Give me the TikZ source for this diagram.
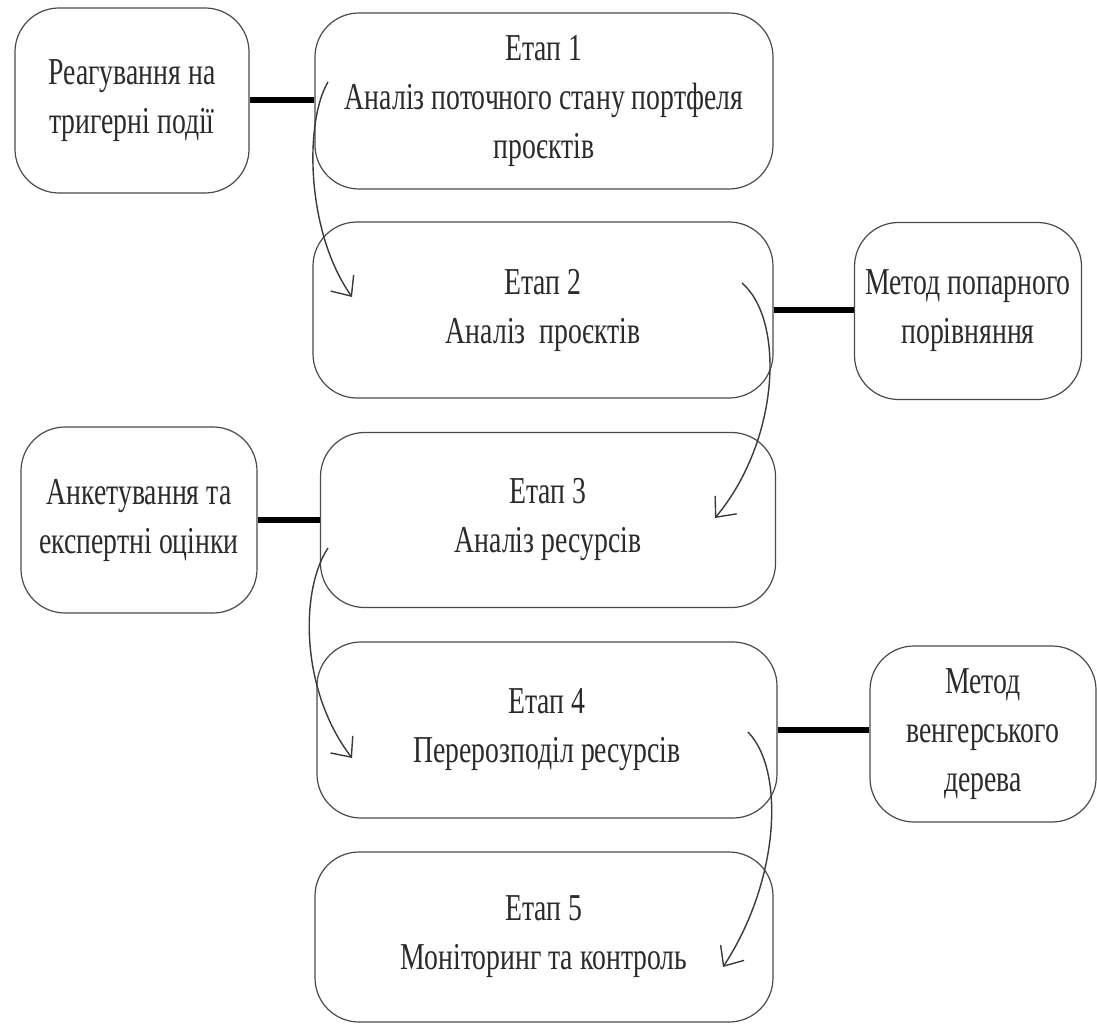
\documentclass[tikz,border=0pt]{standalone}
\usepackage{fontspec}
\setmainfont{Liberation Serif}[FakeStretch=0.73]
\usetikzlibrary{arrows.meta}
\definecolor{boxgray}{HTML}{4A4A4A}
\definecolor{txtgray}{HTML}{2A2A2A}
\definecolor{arrgray}{HTML}{3A3A3A}
\begin{document}
\begin{tikzpicture}[x=1pt,y=-1pt,
  box/.style={draw=boxgray, line width=1.2pt, rounded corners=44pt, inner sep=0pt,
    align=center, text=txtgray, font=\fontsize{38}{49}\selectfont},
  stagebox/.style={box, minimum width=458pt, minimum height=176pt},
  sidebox/.style={box, minimum width=230pt, minimum height=182pt},
  link/.style={line width=6pt, draw=black},
  flow/.style={draw=arrgray, line width=1.4pt, -{Straight Barb[length=16pt,width=28pt]}}]
\useasboundingbox (0,0) rectangle (1097,1024);
% side boxes
\node[sidebox, minimum width=234pt, minimum height=185pt] (l1) at (132,100.5) {Реагування на\\тригерні події};
\node[sidebox, minimum width=227pt, minimum height=177pt] (r1) at (968,311) {Метод попарного\\порівняння};
\node[sidebox, minimum width=236pt, minimum height=186pt] (l2) at (139,520) {Анкетування та\\експертні оцінки};
\node[sidebox, minimum width=226pt, minimum height=176pt] (r2) at (983,734) {Метод\\венгерського\\дерева};
% stages
\node[stagebox] (e1) at (544,101) {Етап 1\\Аналіз поточного стану портфеля\\проєктів};
\node[stagebox, minimum width=460pt] (e2) at (543,310) {Етап 2\\Аналіз\ \ проєктів};
\node[stagebox, minimum width=455pt, minimum height=175pt] (e3) at (548,520) {Етап 3\\Аналіз ресурсів};
\node[stagebox, minimum width=460pt] (e4) at (547,730) {Етап 4\\Перерозподіл ресурсів};
\node[stagebox, minimum height=170pt] (e5) at (544,937) {Етап 5\\Моніторинг та контроль};
% thick links
\draw[link] (l1.east) -- (l1.east -| e1.west);
\draw[link] (e2.east) -- (e2.east -| r1.west);
\draw[link] (l2.east) -- (l2.east -| e3.west);
\draw[link] (e4.east) -- (e4.east -| r2.west);
% flow arrows
\coordinate (a1s) at (328,82);
\coordinate (a1e) at (352,297);
\coordinate (a2s) at (742,283);
\coordinate (a2e) at (715,518);
\coordinate (a3s) at (328,548);
\coordinate (a3e) at (352,758);
\coordinate (a4s) at (748,732);
\coordinate (a4e) at (723,967);
\draw[flow] (a1s) .. controls (305,120) and (305,230) .. (a1e);
\draw[flow] (a2s) .. controls (785,320) and (780,440) .. (a2e);
\draw[flow] (a3s) .. controls (300,590) and (300,690) .. (a3e);
\draw[flow] (a4s) .. controls (785,770) and (780,880) .. (a4e);
\end{tikzpicture}
\end{document}
